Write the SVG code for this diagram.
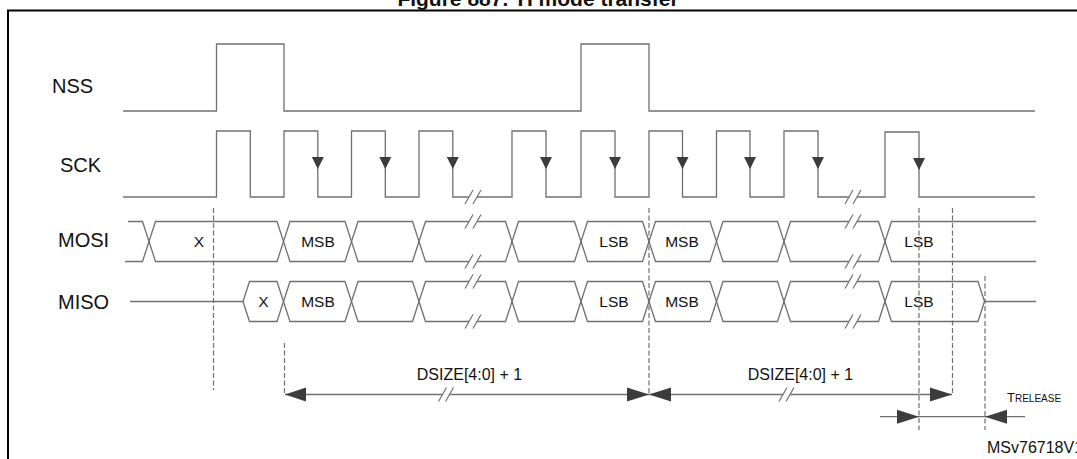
<svg xmlns="http://www.w3.org/2000/svg" width="1077" height="459" viewBox="0 0 1077 459">
<style>
text{font-family:"Liberation Sans",Arial,sans-serif;fill:#111}
.lbl{font-size:20px}
.cell{font-size:15.5px;text-anchor:middle}
.dim{font-size:16px;text-anchor:middle}
.title{font-size:21px;font-weight:bold;text-anchor:middle}
.w{fill:none;stroke:#707070;stroke-width:1.3}
.brk{fill:none;stroke:#707070;stroke-width:1.2}
.dash{fill:none;stroke:#707070;stroke-width:1.2;stroke-dasharray:5 2.5}
.ah{fill:#3c3c3c;stroke:none}
</style>
<rect x="0" y="0" width="1077" height="459" fill="#fff"/>
<g id="frame">
<path d="M8,459 V10.5 H1077" fill="none" stroke="#000" stroke-width="2"/>
<text class="title" x="538" y="5.5">Figure 887. TI mode transfer</text>
</g>
<g id="nss">
<text class="lbl" x="52" y="93">NSS</text>
<path class="w" d="M123,111 H216.5 V44 H284 V111 H581 V44 H649 V111 H1035"/>
</g>
<g id="sck">
<text class="lbl" x="60" y="172">SCK</text>
<path class="w" d="M123,197 H216.5 V131 H250.3 V197 H284 V131 H317.8 V197 H351.5 V131 H385.3 V197 H419 V131 H452.8 V197 H469 M477,197 H512 V131 H546 V197 H581 V131 H615 V197 H649 V131 H682.5 V197 H716.5 V131 H750 V197 H784 V131 H818 V197 H849 M857,197 H885 V132 H919 V197 H1035"/>
<path class="brk" d="M465,204 L473,190 M473,204 L481,190 M845,204 L853,190 M853,204 L861,190"/>
<path class="ah" d="M311.8,157 H323.8 L317.8,169 Z M379.3,157 H391.3 L385.3,169 Z M446.8,157 H458.8 L452.8,169 Z M540,157 H552 L546,169 Z M609,157 H621 L615,169 Z M676.5,157 H688.5 L682.5,169 Z M744,157 H756 L750,169 Z M812,157 H824 L818,169 Z M913,158 H925 L919,170 Z"/>
</g>
<g id="mosi">
<text class="lbl" x="58" y="247">MOSI</text>
<path class="w" d="M128,221.5 H142.5 L155.5,261.5 H277 L290,221.5 H345 L358,261.5 H412.5 L425.5,221.5 H469 M477,221.5 H505.5 L518.5,261.5 H574.5 L587.5,221.5 H642.5 L655.5,261.5 H710 L723,221.5 H777.5 L790.5,261.5 H849 M857,261.5 H878.5 L891.5,221.5 H1036"/>
<path class="w" d="M125,261.5 H142.5 L155.5,221.5 H277 L290,261.5 H345 L358,221.5 H412.5 L425.5,261.5 H469 M477,261.5 H505.5 L518.5,221.5 H574.5 L587.5,261.5 H642.5 L655.5,221.5 H710 L723,261.5 H777.5 L790.5,221.5 H849 M857,221.5 H878.5 L891.5,261.5 H1036"/>
<path class="brk" d="M465,228.5 L473,214.5 M473,228.5 L481,214.5 M465,268.5 L473,254.5 M473,268.5 L481,254.5 M845,228.5 L853,214.5 M853,228.5 L861,214.5 M845,268.5 L853,254.5 M853,268.5 L861,254.5"/>
<text class="cell" x="199" y="247">X</text>
<text class="cell" x="318" y="247">MSB</text>
<text class="cell" x="614" y="247">LSB</text>
<text class="cell" x="682" y="247">MSB</text>
<text class="cell" x="919" y="247">LSB</text>
</g>
<g id="miso">
<text class="lbl" x="58" y="309">MISO</text>
<path class="w" d="M130,301.5 H243 L249.5,281.5 H277 L290,321.5 H345 L358,281.5 H412.5 L425.5,321.5 H469 M477,321.5 H505.5 L518.5,281.5 H574.5 L587.5,321.5 H642.5 L655.5,281.5 H710 L723,321.5 H777.5 L790.5,281.5 H849 M857,281.5 H878.5 L891.5,321.5 H978 L984.5,301.5 H1036"/>
<path class="w" d="M243,301.5 L249.5,321.5 H277 L290,281.5 H345 L358,321.5 H412.5 L425.5,281.5 H469 M477,281.5 H505.5 L518.5,321.5 H574.5 L587.5,281.5 H642.5 L655.5,321.5 H710 L723,281.5 H777.5 L790.5,321.5 H849 M857,321.5 H878.5 L891.5,281.5 H978 L984.5,301.5"/>
<path class="brk" d="M465,288.5 L473,274.5 M473,288.5 L481,274.5 M465,328.5 L473,314.5 M473,328.5 L481,314.5 M845,288.5 L853,274.5 M853,288.5 L861,274.5 M845,328.5 L853,314.5 M853,328.5 L861,314.5"/>
<text class="cell" x="263.5" y="307">X</text>
<text class="cell" x="318" y="307">MSB</text>
<text class="cell" x="614" y="307">LSB</text>
<text class="cell" x="682" y="307">MSB</text>
<text class="cell" x="919" y="307">LSB</text>
</g>
<g id="connectors">
<path class="dash" d="M213.5,208 V390 M284.5,343 V394 M649,208 V394 M919,208 V430 M952.5,208 V394 M985,276 V430"/>
<path class="w" d="M285,394.5 H442.5 M449.5,394.5 H649 M649,394.5 H783 M790,394.5 H952 M880,416.7 H1025"/>
<path class="brk" d="M438.5,401.5 L446.5,387.5 M445.5,401.5 L453.5,387.5 M779,401.5 L787,387.5 M786,401.5 L794,387.5"/>
<path class="ah" d="M285,394.5 L306,387.5 V401.5 Z M649,394.5 L627,387.5 V401.5 Z M649,394.5 L671,387.5 V401.5 Z M952,394.5 L930,387.5 V401.5 Z M919,416.7 L897,409.7 V423.7 Z M985,416.7 L1007,409.7 V423.7 Z"/>
</g>
<g id="labels">
<text class="dim" x="469.5" y="380">DSIZE[4:0] + 1</text>
<text class="dim" x="800.5" y="380">DSIZE[4:0] + 1</text>
<text x="1007" y="402" style="font-size:13px">T<tspan style="font-size:10px">RELEASE</tspan></text>
<text x="987" y="453" style="font-size:16px">MSv76718V1</text>
</g>
</svg>
